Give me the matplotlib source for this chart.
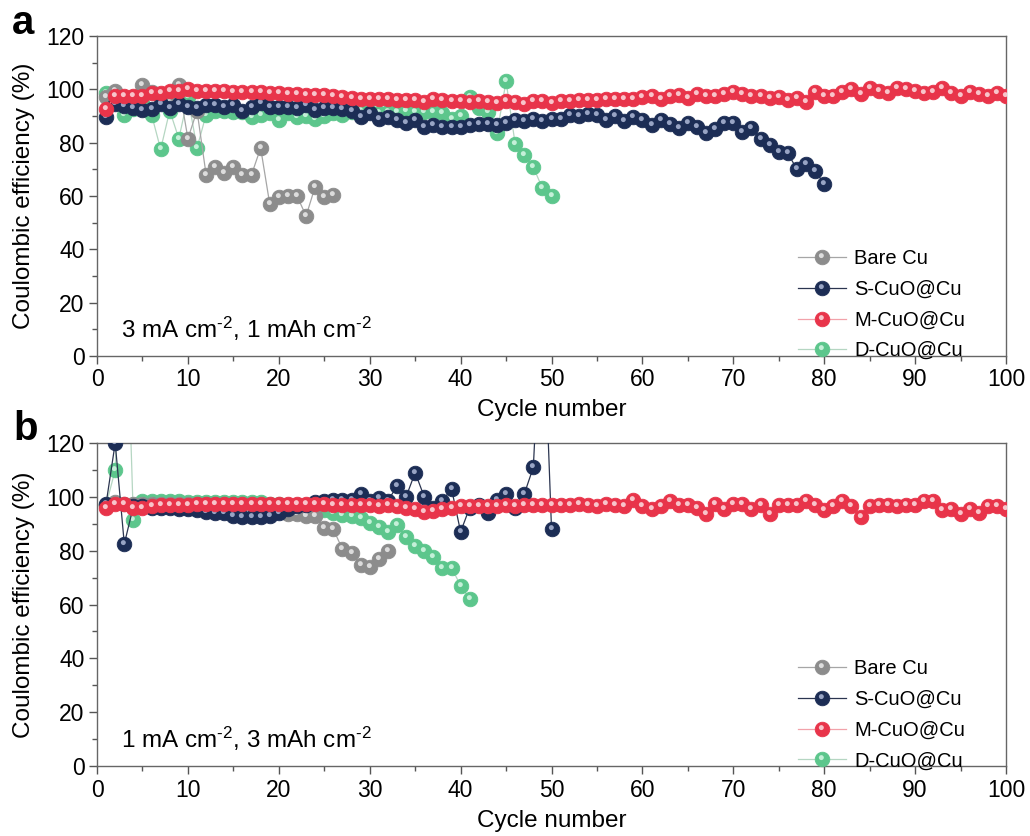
import matplotlib
matplotlib.use("Agg")
import matplotlib.pyplot as plt
import numpy as np
from matplotlib.path import Path
from matplotlib.ticker import MultipleLocator

# ====== DATA ======

# panel a : 3 mA cm-2, 1 mAh cm-2
a_bare = [97, 99.5, 96, 95, 101.5, 99, 96, 95, 101.5, 81.5, 92, 68, 71, 68.5, 71, 68,
          68, 78, 57, 59.5, 60, 60, 52.5, 63.5, 59.5, 60.5]
a_scuo = [89.7, 94.5, 93.9, 93, 92.2, 92.5, 94.5, 92.9, 94.5, 93.5, 92.9, 94.1, 94.1, 93.5,
          94.1, 92, 93.5, 94.7, 93.5, 93.5, 93.5, 92.9, 94.1, 92.2, 92.9, 92.9, 92.5, 92,
          89.5, 91, 89, 89.5, 88.5, 87.5, 88.5, 85.8, 86.6, 86, 86, 85.8, 86.6, 87, 87,
          86.6, 87.3, 88.3, 88, 88.8, 88, 88.8, 89, 90.5, 89.8, 90.8, 90.5, 88.3, 89.8, 88,
          89.6, 88.3, 86.5, 88.5, 86.8, 85.5, 87.5, 86, 83.5, 85, 87.5, 87.5, 84, 85.5,
          81.5, 79, 76.5, 76, 70, 72, 69.5, 64.5]
a_mcuo = [92.5, 97.5, 97.5, 97.5, 97.5, 98.5, 98.5, 99.5, 99.5, 100, 99.5, 99.5, 99.5, 99.5,
          99, 98.8, 99, 99, 98.6, 98.6, 98.2, 98.2, 98, 97.8, 97.8, 97.6, 97.2, 96.8, 96.5,
          96.5, 96.5, 96.5, 96, 95.8, 96, 95.2, 96.2, 95.8, 95.5, 95.5, 95.2, 95.5, 95.2,
          94.8, 95.5, 95.3, 94.5, 95.5, 95.5, 94.8, 95.5, 95.5, 96, 95.8, 96, 96.3, 96.3,
          96.5, 96.2, 97, 97.3, 96.3, 97.5, 97.8, 96.8, 98.2, 97.6, 97.6, 98.3, 99, 98.2,
          97.3, 97.6, 96.8, 97.2, 95.8, 96.6, 95.2, 99, 97.5, 97.6, 99, 100, 98.2, 100.5,
          99.2, 98.5, 100.5, 100, 99.2, 98.6, 99, 100.3, 98.6, 97.6, 99, 98.2, 97.6, 98.6,
          97.6]
a_dcuo = [98.5, 97, 90.5, 92.5, 95, 90.5, 77.5, 92, 81.5, 97, 78, 90.5, 92, 92, 91.5, 91.5,
          89.5, 90.5, 91, 88.5, 91, 89.5, 90, 89, 90, 91, 90.4, 91.5, 92, 91.5, 91, 91.5,
          91.5, 92, 91.6, 91.3, 91.6, 91, 88.8, 90, 97.2, 93, 91.6, 83.5, 103, 79.5, 75.4,
          70.8, 62.9, 60.1]

# panel b : 1 mA cm-2, 3 mAh cm-2 (points above 120 run off the top)
b_bare = [97, 98, 97.5, 97.5, 97.5, 97.5, 97.5, 97.5, 97.5, 97.5, 97.5, 97.5, 97.5, 97.5,
          97.5, 97.5, 97.5, 97, 97, 96, 93.5, 93.5, 93, 93, 88.5, 88, 80.5, 79, 74.5, 74,
          77, 80]
b_scuo = [97.5, 120, 82.5, 96.5, 96.5, 96, 96, 96, 95.5, 95.5, 95, 94.5, 94, 94, 93, 92.5,
          92.5, 92.5, 93, 94, 95.5, 96.5, 97, 98, 98.5, 99, 99, 99, 101, 98.5, 99.5, 98.5,
          104, 100, 109, 100, 96, 98.5, 103, 87, 96, 97, 94, 99, 101, 96, 101, 111, 180, 88]
b_mcuo = [95.7, 97.3, 97.3, 95.7, 95.7, 96.5, 96.8, 97, 97, 97, 97.5, 97.5, 97.5, 97.5, 97.5,
          97.5, 97.5, 97.5, 97.5, 97.5, 97.5, 97.5, 97.5, 97.5, 97.5, 97, 97, 96.8, 97,
          96.8, 96.5, 96.8, 96.5, 96, 95.5, 94.5, 94.8, 95.5, 96, 96.5, 96.5, 96.5, 96.5,
          96.5, 97, 96.5, 97, 96.8, 97, 96.8, 97, 97, 97.5, 97, 96.5, 97.5, 97, 96.5, 99,
          96.5, 95.5, 96.5, 98.5, 97, 97, 96, 93.5, 97.5, 95.5, 97.5, 97.5, 95.5, 97, 93.5,
          97, 97, 97, 98.5, 97, 95, 96.5, 98.5, 96.5, 92.5, 96.5, 97, 97, 96.5, 97, 97, 98.5,
          98.5, 95, 95.5, 93.5, 95.5, 94, 96.5, 96.5, 95.5]
b_dcuo = [97, 110, 200, 91.5, 98.5, 98.5, 98.5, 98.5, 98.5, 98, 98, 98, 98, 98, 98, 98, 98,
          98, 97.5, 97.5, 97, 97, 96.5, 96, 95, 94, 93.3, 92.9, 92, 90.4, 88.9, 87, 89.5,
          85, 81.8, 79.9, 77.8, 73.7, 73.7, 67, 62]

labels = ["Bare Cu", "S-CuO@Cu", "M-CuO@Cu", "D-CuO@Cu"]
ball_colors = ["#8c8c8c", "#1c2d55", "#e8344a", "#5cc68c"]
line_colors = ["#a6a6a6", "#2b3550", "#f2a2aa", "#b5d6c2"]
shine_colors = ["#dcdcdc", "#98a4c4", "#f8c4ca", "#c4f0d8"]
zorders = [3, 4, 5, 2]

# ====== STYLE ======

plt.rcParams["font.family"] = ["Liberation Sans", "DejaVu Sans"]
plt.rcParams["mathtext.fontset"] = "custom"
plt.rcParams["mathtext.rm"] = "Liberation Sans"
plt.rcParams["mathtext.default"] = "regular"

# small light spot drawn on top of each ball to give the shiny look
spot = Path.circle(center=(-0.08, 0.13), radius=0.17)
spot_marker = Path(np.vstack([[[-0.5, -0.5], [0.5, 0.5]], spot.vertices]),
                   [Path.MOVETO, Path.MOVETO] + list(spot.codes))

fig = plt.figure(figsize=(10.3, 8.36), dpi=100)
ax_a = fig.add_axes([0.0942, 0.5742, 0.8825, 0.3828])
ax_b = fig.add_axes([0.0942, 0.0837, 0.8825, 0.3864])

panels = [
    (ax_a, [a_bare, a_scuo, a_mcuo, a_dcuo], r"3 mA cm$^{\text{-2}}$, 1 mAh cm$^{\text{-2}}$"),
    (ax_b, [b_bare, b_scuo, b_mcuo, b_dcuo], r"1 mA cm$^{\text{-2}}$, 3 mAh cm$^{\text{-2}}$"),
]

for ax, series, note in panels:
    handles = []
    for i, y in enumerate(series):
        x = np.arange(1, len(y) + 1)
        ln, = ax.plot(x, y, "-o", color=line_colors[i], lw=0.9, ms=10.5,
                      mfc=ball_colors[i], mec=ball_colors[i], mew=0.6, zorder=zorders[i])
        sh, = ax.plot(x, y, ls="none", marker=spot_marker, ms=10.5, mfc=shine_colors[i],
                      mec="none", zorder=zorders[i] + 0.1)
        handles.append((ln, sh))

    ax.set_xlim(0, 100)
    ax.set_ylim(0, 120)
    ax.xaxis.set_major_locator(MultipleLocator(10))
    ax.xaxis.set_minor_locator(MultipleLocator(5))
    ax.yaxis.set_major_locator(MultipleLocator(20))
    ax.yaxis.set_minor_locator(MultipleLocator(10))
    ax.tick_params(which="major", direction="out", length=6, width=1, color="#555555",
                   labelsize=16.5, pad=3)
    ax.tick_params(which="minor", direction="out", length=3.5, width=1, color="#555555")
    for s in ax.spines.values():
        s.set_color("#666666")
        s.set_linewidth(1.0)

    ax.set_xlabel("Cycle number", fontsize=17.5)
    ax.xaxis.set_label_coords(0.5, -0.135)
    ax.set_ylabel("Coulombic efficiency (%)", fontsize=17.5)
    ax.yaxis.set_label_coords(-0.068, 0.5)

    ax.text(0.026, 0.085, note, transform=ax.transAxes, fontsize=17.5, va="center", ha="left")

    ax.legend(handles, labels, loc="lower right", bbox_to_anchor=(0.975, -0.07),
              frameon=False, fontsize=14.5, handlelength=2.4, handletextpad=0.4,
              labelspacing=0.58)

fig.text(0.022, 0.972, "a", fontsize=29, fontweight="bold", ha="center", va="center")
fig.text(0.025, 0.487, "b", fontsize=29, fontweight="bold", ha="center", va="center")

fig.savefig("out.png", dpi=100)
